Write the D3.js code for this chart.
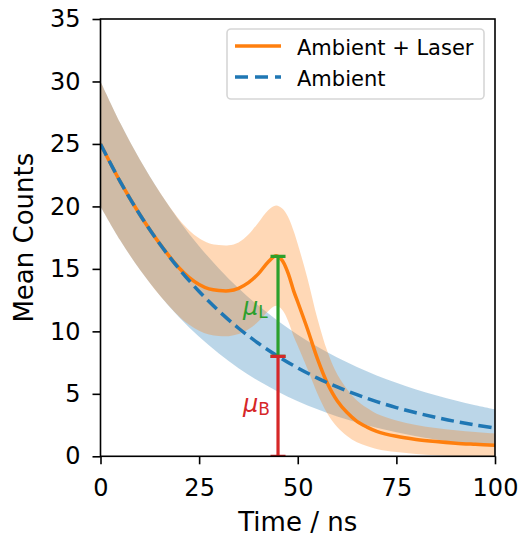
<!DOCTYPE html>
<html>
<head>
<meta charset="utf-8">
<script src="https://cdn.jsdelivr.net/npm/d3@7"></script>
<style>
  body { margin: 0; background: #fff; }
  svg { font-family: "DejaVu Sans", sans-serif; }
</style>
</head>
<body>
<div id="chart"></div>
<script>
// ambient only (dashed blue)
const ambientTime  = [0, 5, 10, 15, 20, 25, 30, 35, 40, 45, 50, 55, 60, 65, 70, 75, 80, 85, 90, 95, 100];
const ambientMean  = [25.00, 21.98, 19.33, 17.01, 14.97, 13.19, 11.63, 10.25, 9.05, 8.00, 7.07, 6.26, 5.55, 4.93, 4.38, 3.90, 3.48, 3.12, 2.79, 2.51, 2.26];
const ambientLow   = [20.00, 17.29, 14.93, 12.89, 11.10, 9.56, 8.22, 7.05, 6.04, 5.17, 4.41, 3.76, 3.19, 2.71, 2.29, 1.93, 1.61, 1.35, 1.12, 0.93, 0.76];
const ambientHigh  = [30.00, 26.67, 23.73, 21.13, 18.84, 16.82, 15.04, 13.45, 12.06, 10.83, 9.73, 8.76, 7.91, 7.15, 6.47, 5.88, 5.35, 4.89, 4.46, 4.09, 3.76];

// ambient + laser (solid orange)
const laserTime = [0, 5, 10, 15, 20, 22.5, 25, 27.5, 30, 32.5, 35, 37.5, 40, 42.5, 44.5, 46, 47.5, 49, 50, 52.5, 55, 57.5, 60, 62.5, 65, 67.5, 70, 75, 80, 85, 90, 95, 100];
const laserMean = [25.00, 21.98, 19.33, 17.02, 15.05, 14.30, 13.75, 13.40, 13.27, 13.25, 13.45, 13.90, 14.60, 15.55, 16.05, 15.70, 14.70, 13.20, 12.35, 10.15, 7.80, 5.85, 4.45, 3.50, 2.80, 2.35, 2.00, 1.60, 1.35, 1.18, 1.05, 0.96, 0.88];
const laserLow  = [20.00, 17.29, 14.93, 12.89, 11.17, 10.52, 10.04, 9.74, 9.63, 9.61, 9.78, 10.17, 10.78, 11.61, 12.04, 11.74, 10.87, 9.57, 8.84, 6.96, 5.01, 3.43, 2.34, 1.63, 1.13, 0.82, 0.59, 0.34, 0.19, 0.09, 0.03, 0.00, 0.00];
const laserHigh = [30.00, 26.67, 23.73, 21.15, 18.93, 18.08, 17.46, 17.06, 16.91, 16.89, 17.12, 17.75, 18.70, 19.70, 20.08, 19.85, 19.20, 18.00, 17.00, 14.20, 11.00, 8.40, 6.56, 5.37, 4.47, 3.88, 3.41, 2.87, 2.51, 2.27, 2.08, 1.94, 1.82];

// the two error bars at t = 45 ns
const barTime = 45;
const bgMean = 8.0;
const sigMean = 16.0;

const xTicks = [0, 25, 50, 75, 100];
const yTicks = [0, 5, 10, 15, 20, 25, 30, 35];

const legendItems = [
  { label: "Ambient + Laser", color: "#ff7f0e", dash: null },
  { label: "Ambient", color: "#1f77b4", dash: "13,7" }
];

const W = 524, H = 538;
const margin = { top: 19, right: 29, bottom: 81.7, left: 100.5 },
      width = W - margin.left - margin.right,
      height = H - margin.top - margin.bottom;

const svg = d3.select("#chart")
  .append("svg")
  .attr("width", W)
  .attr("height", H);

const g = svg.append("g")
  .attr("transform", `translate(${margin.left},${margin.top})`);

const x = d3.scaleLinear().domain([0, 100]).range([0, width]);
const y = d3.scaleLinear().domain([0, 35]).range([height, 0]);

g.append("clipPath").attr("id", "clip")
  .append("rect").attr("width", width).attr("height", height);

const plot = g.append("g").attr("clip-path", "url(#clip)");

function rows(t, m, lo, hi) {
  return t.map((d, i) => ({ t: d, m: m[i], lo: lo[i], hi: hi[i] }));
}
const ambient = rows(ambientTime, ambientMean, ambientLow, ambientHigh);
const laser = rows(laserTime, laserMean, laserLow, laserHigh);

const smooth = d3.curveCatmullRom.alpha(0.5);

const band = d3.area()
  .x(d => x(d.t))
  .y0(d => y(d.lo))
  .y1(d => y(d.hi))
  .curve(smooth);

const line = d3.line()
  .x(d => x(d.t))
  .y(d => y(d.m))
  .curve(smooth);

// bands
plot.append("path").datum(ambient)
  .attr("d", band)
  .attr("fill", "#1f77b4")
  .attr("fill-opacity", 0.3);

plot.append("path").datum(laser)
  .attr("d", band)
  .attr("fill", "#ff7f0e")
  .attr("fill-opacity", 0.3);

// lines
plot.append("path").datum(laser)
  .attr("d", line)
  .attr("fill", "none")
  .attr("stroke", "#ff7f0e")
  .attr("stroke-width", 3.5);

plot.append("path").datum(ambient)
  .attr("d", line)
  .attr("fill", "none")
  .attr("stroke", "#1f77b4")
  .attr("stroke-width", 3.5)
  .attr("stroke-dasharray", "13,6");

// error bars
function errBar(lo, hi, color) {
  const bx = x(barTime), cap = 7.5;
  plot.append("line")
    .attr("x1", bx).attr("x2", bx)
    .attr("y1", y(lo)).attr("y2", y(hi))
    .attr("stroke", color).attr("stroke-width", 3.2);
  [lo, hi].forEach(v => {
    plot.append("line")
      .attr("x1", bx - cap).attr("x2", bx + cap)
      .attr("y1", y(v)).attr("y2", y(v))
      .attr("stroke", color).attr("stroke-width", 3.2);
  });
}
errBar(bgMean, sigMean, "#2ca02c");
errBar(0, bgMean, "#d62728");

// mu labels
function muLabel(tx, ty, sub, color) {
  const t = g.append("text")
    .attr("x", x(tx)).attr("y", y(ty))
    .attr("fill", color)
    .attr("font-size", "24px");
  t.append("tspan").attr("font-style", "italic").text("μ");
  t.append("tspan").attr("font-size", "17px").attr("dy", 3).text(sub);
}
muLabel(36.1, 11.3, "L", "#2ca02c");
muLabel(36.1, 3.55, "B", "#d62728");

// axes
const xAxis = g.append("g")
  .attr("transform", `translate(0,${height})`)
  .call(d3.axisBottom(x).tickValues(xTicks).tickSize(8).tickPadding(14.5));
const yAxis = g.append("g")
  .call(d3.axisLeft(y).tickValues(yTicks).tickSize(8).tickPadding(12));

[xAxis, yAxis].forEach(a => {
  a.select(".domain").remove();
  a.selectAll("line").attr("stroke", "#000").attr("stroke-width", 1.6);
  a.selectAll("text")
    .attr("font-size", "24px")
    .attr("font-family", "DejaVu Sans")
    .attr("fill", "#000");
});

// frame
g.append("rect")
  .attr("width", width).attr("height", height)
  .attr("fill", "none")
  .attr("stroke", "#000")
  .attr("stroke-width", 1.6);

// axis titles
g.append("text")
  .attr("x", width / 2)
  .attr("y", height + 74.7)
  .attr("text-anchor", "middle")
  .attr("font-size", "26px")
  .text("Time / ns");

g.append("text")
  .attr("transform", `translate(${33 - margin.left},${height / 2}) rotate(-90)`)
  .attr("text-anchor", "middle")
  .attr("font-size", "26px")
  .text("Mean Counts");

// legend
const legend = svg.append("g");
legend.append("rect")
  .attr("x", 227).attr("y", 29)
  .attr("width", 257).attr("height", 70)
  .attr("rx", 4)
  .attr("fill", "#fff").attr("fill-opacity", 0.8)
  .attr("stroke", "#d6d6d6").attr("stroke-width", 1.6);

legendItems.forEach((d, i) => {
  const ly = 46 + i * 31;
  legend.append("line")
    .attr("x1", 235).attr("x2", 281)
    .attr("y1", ly).attr("y2", ly)
    .attr("stroke", d.color)
    .attr("stroke-width", 3.5)
    .attr("stroke-dasharray", d.dash);
  legend.append("text")
    .attr("x", 297).attr("y", ly + 8.5)
    .attr("font-size", "21px")
    .text(d.label);
});
</script>
</body>
</html>
